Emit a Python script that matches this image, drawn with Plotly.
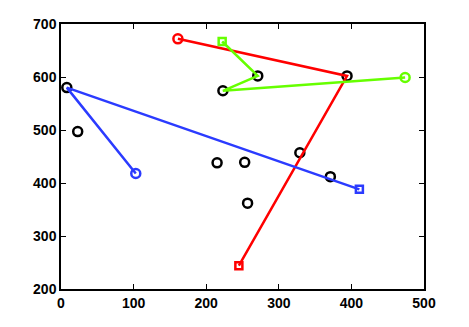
import plotly.graph_objects as go

# black scattered points
pts_x = [8, 23, 215, 223, 271, 394, 329, 253, 257, 371]
pts_y = [580, 497, 438, 574, 602, 602, 457, 439, 362, 412]

# routes (start circle ... end square)
red_x = [161, 394, 245]
red_y = [672, 602, 244]
green_x = [474, 223, 271, 222]
green_y = [599, 574, 602, 667]
blue_x = [103, 8, 411]
blue_y = [418, 580, 388]

routes = [
    (red_x, red_y, "#FF0000"),
    (green_x, green_y, "#66FF00"),
    (blue_x, blue_y, "#2B3BFF"),
]

fig = go.Figure()
fig.add_trace(go.Scatter(
    x=pts_x, y=pts_y, mode="markers",
    marker=dict(symbol="circle-open", size=9, color="black", line=dict(width=2.5)),
    showlegend=False))

for xs, ys, c in routes:
    fig.add_trace(go.Scatter(x=xs, y=ys, mode="lines",
                             line=dict(color=c, width=2.5), showlegend=False))
    fig.add_trace(go.Scatter(x=[xs[0]], y=[ys[0]], mode="markers",
                             marker=dict(symbol="circle-open", size=9, color=c, line=dict(width=2.5)),
                             showlegend=False))
    fig.add_trace(go.Scatter(x=[xs[-1]], y=[ys[-1]], mode="markers",
                             marker=dict(symbol="square-open", size=7, color=c, line=dict(width=2.5)),
                             showlegend=False))

axis_common = dict(
    showgrid=False, zeroline=False, showline=True, linecolor="black", linewidth=1.5,
    mirror="ticks", ticks="inside", ticklen=5, tickwidth=1, tickcolor="black",
    automargin=False,
    tickfont=dict(family="Liberation Sans", size=14, color="black", weight="bold"),
)
fig.update_xaxes(range=[0, 500], tickvals=[0, 100, 200, 300, 400, 500], **axis_common)
fig.update_yaxes(range=[200, 700], tickvals=[200, 300, 400, 500, 600, 700], **axis_common)

fig.update_layout(
    width=469, height=327,
    margin=dict(l=53, r=53, t=16, b=46),
    plot_bgcolor="white", paper_bgcolor="white",
)
fig.write_html("out.html")
